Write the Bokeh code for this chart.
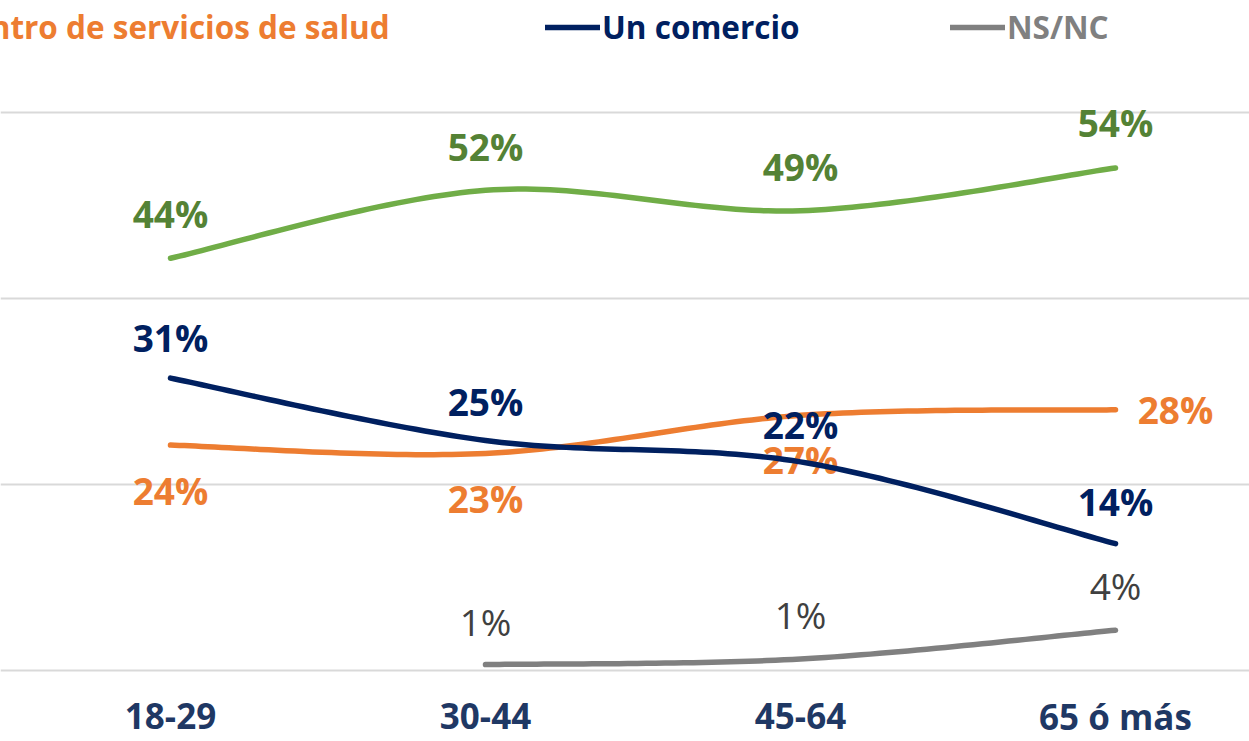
import numpy as np
from bokeh.plotting import figure
from bokeh.models import (FixedTicker, Legend, LegendItem, ColumnDataSource, Range1d)
from bokeh.core.properties import value
from bokeh.embed import file_html
from bokeh.resources import INLINE

# ---------------- data ----------------
categories = ["18-29", "30-44", "45-64", "65 ó más"]
serie_verde = [44.3, 51.6, 49.4, 54.0]          # legend entry cropped off in the reference
centro_salud = [24.2, 23.3, 27.4, 28.0]         # "Centro de servicios de salud"
un_comercio = [31.4, 24.7, 22.4, 13.6]          # "Un comercio"
ns_nc = [None, 0.6, 1.2, 4.3]                   # "NS/NC"
y_ticks = [0, 20, 40, 60]

# ---------------- styles ----------------
GREEN, GREEN_TXT = "#70AD47", "#548235"
ORANGE = "#ED7D31"
NAVY = "#002060"
GRAY, GRAY_TXT = "#808080", "#404040"
AXIS_TXT = "#1F3864"
FONT = "Open Sans"

p = figure(width=1249, height=741, output_backend="svg", toolbar_location=None,
           x_range=Range1d(-0.5397, 3.4254), y_range=Range1d(-7.67, 72.01),
           min_border_left=0, min_border_right=0, min_border_top=0, min_border_bottom=0)
p.outline_line_color = None
p.background_fill_color = "white"
p.border_fill_color = "white"

p.xaxis.visible = False
p.yaxis.visible = False
p.ygrid.ticker = FixedTicker(ticks=y_ticks)
p.ygrid.grid_line_color = "#D9D9D9"
p.ygrid.grid_line_width = 2
p.xgrid.visible = False


def smooth(xs, ys, n=40):
    pts = [(x, y) for x, y in zip(xs, ys) if y is not None]
    ox, oy = [], []
    t = np.linspace(0, 1, n)
    for i in range(len(pts) - 1):
        p0 = pts[i - 1] if i > 0 else pts[i]
        p1, p2 = pts[i], pts[i + 1]
        p3 = pts[i + 2] if i + 2 < len(pts) else pts[i + 1]
        c1 = (p1[0] + (p2[0] - p0[0]) / 6, p1[1] + (p2[1] - p0[1]) / 6)
        c2 = (p2[0] - (p3[0] - p1[0]) / 6, p2[1] - (p3[1] - p1[1]) / 6)
        bx = (1 - t) ** 3 * p1[0] + 3 * (1 - t) ** 2 * t * c1[0] + 3 * (1 - t) * t ** 2 * c2[0] + t ** 3 * p2[0]
        by = (1 - t) ** 3 * p1[1] + 3 * (1 - t) ** 2 * t * c1[1] + 3 * (1 - t) * t ** 2 * c2[1] + t ** 3 * p2[1]
        ox.extend(bx if i == 0 else bx[1:])
        oy.extend(by if i == 0 else by[1:])
    return ox, oy


xs = list(range(len(categories)))

# category labels, placed under the 0 baseline through the data scales
cat_src = ColumnDataSource(dict(x=xs, y=[y_ticks[0]] * len(xs), t=categories))
p.text(x="x", y="y", text="t", source=cat_src, y_offset=46,
       text_align="center", text_baseline="middle",
       text_font=value(FONT), text_font_size="35px", text_font_style="bold",
       text_color=AXIS_TXT)

series = [
    # values, line colour, label colour, weight, dx, dy
    (serie_verde, GREEN, GREEN_TXT, "bold", [0, 0, 0, 0], [-45, -44, -44, -45]),
    (centro_salud, ORANGE, ORANGE, "bold", [0, 0, 0, 60], [45, 45, 44, 0]),
    (un_comercio, NAVY, NAVY, "bold", [0, 0, 0, 0], [-41, -39, -37, -42]),
    (ns_nc, GRAY, GRAY_TXT, "normal", [0, 0, 0, 0], [-43, -43, -45, -45]),
]

renderers = []
for vals, lc, tc, style, dx, dy in series:
    sx, sy = smooth(xs, vals)
    r = p.line(sx, sy, line_width=5.5, line_color=lc, line_cap="round", line_join="round")
    renderers.append(r)
    idx = [i for i, v in enumerate(vals) if v is not None]
    src = ColumnDataSource(dict(
        x=[xs[i] for i in idx],
        y=[vals[i] for i in idx],
        t=[f"{round(vals[i])}%" for i in idx],
        dx=[dx[i] for i in idx],
        dy=[dy[i] for i in idx],
    ))
    p.text(x="x", y="y", text="t", x_offset="dx", y_offset="dy", source=src,
           text_align="center", text_baseline="middle",
           text_font=value(FONT), text_font_size="37px", text_font_style=style,
           text_color=tc)

legend_specs = [
    ("Centro de servicios de salud", renderers[1], ORANGE, -106),
    ("Un comercio", renderers[2], NAVY, 545),
    ("NS/NC", renderers[3], GRAY, 950),
]
for label, r, col, lx in legend_specs:
    leg = Legend(items=[LegendItem(label=label, renderers=[r])], location=(lx, 693),
                 orientation="horizontal", padding=0, margin=0, spacing=0,
                 glyph_width=55, glyph_height=30, label_standoff=2,
                 label_text_font=FONT, label_text_font_size="31.5px",
                 label_text_font_style="bold", label_text_color=col,
                 border_line_color=None, background_fill_alpha=0)
    p.add_layout(leg)

open("out.html", "w").write(file_html(p, INLINE))
